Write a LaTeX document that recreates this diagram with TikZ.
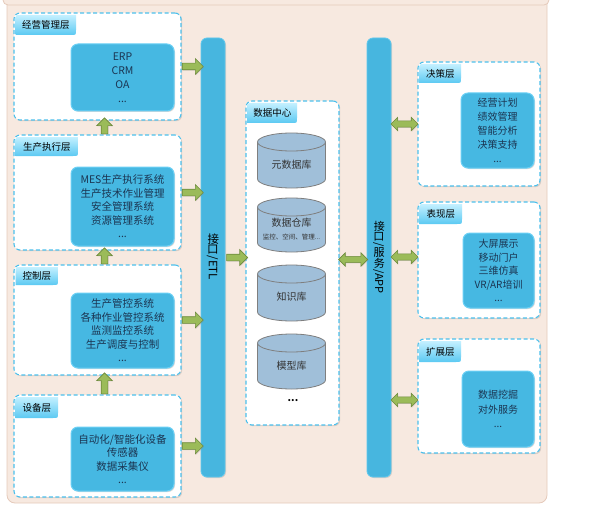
\documentclass[tikz,border=0pt]{standalone}
\usepackage{fontspec}
\setmainfont{Noto Sans CJK SC}
\usetikzlibrary{shapes.arrows,shadows,calc}
\definecolor{bgfill}{HTML}{F7E9E0}
\definecolor{bgline}{HTML}{E5CABB}
\definecolor{dashblue}{HTML}{4CC0EC}
\definecolor{ibfill}{HTML}{46B8E2}
\definecolor{ibline}{HTML}{6BD0F5}
\definecolor{navy}{HTML}{1B3552}
\definecolor{tabtop}{HTML}{C4F0FF}
\definecolor{tabbot}{HTML}{5BC9F2}
\definecolor{barfill}{HTML}{47B6DF}
\definecolor{barline}{HTML}{5EC8EE}
\definecolor{agreen}{HTML}{9BBB59}
\definecolor{adark}{HTML}{6E8B3D}
\definecolor{cylfill}{HTML}{A0BFD9}
\definecolor{cylline}{HTML}{7F7F7F}
\newcommand\mytab[6]{%
  \shade[top color=tabtop, bottom color=tabbot] ({#1},{#4}) -- ({#1},{#2+5}) .. controls ({#1},{#2}) .. ({#1+5},{#2}) -- ({#3},{#2}) -- ({#3},{#4-5}) .. controls ({#3},{#4}) .. ({#3-5},{#4}) -- cycle;
  \node[tabtext] (#5) at ({(#1+#3)/2},{(#2+#4)/2}) {#6};}
\newcommand\mycyl[5]{%
  \draw[draw=cylline, line width=0.8pt, fill=cylfill] (291.5,{#3-9}) ellipse [x radius=34, y radius=9];
  \fill[cylfill] (257.5,{#2+9}) rectangle (325.5,{#3-9});
  \draw[draw=cylline, line width=0.8pt] (257.5,{#2+9}) -- (257.5,{#3-9}) (325.5,{#2+9}) -- (325.5,{#3-9});
  \draw[draw=cylline, line width=0.8pt, fill=cylfill] (291.5,{#2+9}) ellipse [x radius=34, y radius=9];
  \node[cyltext] (#1) at (291.5,{#4}) {#5};}
\newcommand\up[1]{\rotatebox[origin=c]{90}{#1}\kern1pt}
\begin{document}
\begin{tikzpicture}[x=1pt,y=-1pt,
  outer/.style={draw=dashblue, line width=1.1pt, dash pattern=on 4pt off 2.5pt, fill=white, rounded corners=6pt, inner sep=0pt,
    drop shadow={shadow xshift=1.2pt, shadow yshift=-1.2pt, opacity=0.25}},
  inbox/.style={fill=ibfill, draw=ibline, line width=1pt, rounded corners=7pt, inner sep=0pt, text=navy, align=center,
    font=\fontsize{10.5}{13.5}\selectfont, drop shadow={shadow xshift=1pt, shadow yshift=-1pt, opacity=0.3}},
  tabtext/.style={font=\fontsize{9.5}{11}\selectfont, text=black, inner sep=0pt},
  bar/.style={fill=barfill, draw=barline, line width=0.8pt, rounded corners=6pt, minimum width=24, minimum height=439, inner sep=0pt,
    drop shadow={shadow xshift=1pt, shadow yshift=-1pt, opacity=0.25}},
  bartext/.style={font=\fontsize{11.5}{13}\selectfont, text=black, inner sep=0pt},
  barrow/.style={single arrow, fill=agreen, draw=adark, line width=0.6pt, text height=3pt, text depth=3pt, single arrow head extend=4.5pt,
    inner sep=0pt, minimum height=#1, drop shadow={shadow xshift=0.8pt, shadow yshift=-0.8pt, opacity=0.25}},
  dbarrow/.style={double arrow, fill=agreen, draw=adark, line width=0.6pt, text height=2.8pt, text depth=2.8pt, double arrow head extend=3.6pt,
    inner sep=0pt, minimum height=#1, drop shadow={shadow xshift=0.8pt, shadow yshift=-0.8pt, opacity=0.25}},
  cyltext/.style={font=\fontsize{10}{12}\selectfont, text=black!80, inner sep=0pt, align=center}]
\useasboundingbox (0,0) rectangle (591,508);
% background
\draw[draw=bgline, fill=bgfill, line width=0.8pt, rounded corners=8pt] (7,-5) rectangle (547,503);
\draw[draw=bgline, fill=bgfill, line width=0.8pt, rounded corners=5pt] (3,-20) rectangle (549,5);
% left outer boxes
\node[outer, minimum width=167, minimum height=107] (L1) at (97.5,66.5) {};
\node[outer, minimum width=167, minimum height=115] (L2) at (97.5,192.5) {};
\node[outer, minimum width=167, minimum height=110] (L3) at (97.5,320) {};
\node[outer, minimum width=167, minimum height=102] (L4) at (97.5,446) {};
% data center and right boxes
\node[outer, minimum width=93, minimum height=324] (dc) at (292.5,263) {};
\node[outer, minimum width=122, minimum height=124] (R1) at (479,124) {};
\node[outer, minimum width=122, minimum height=116] (R2) at (479,260) {};
\node[outer, minimum width=122, minimum height=114] (R3) at (479,396) {};
% tabs
\mytab{15.5}{15}{76}{35}{t1}{经营管理层}
\mytab{15.5}{137}{78}{156}{t2}{生产执行层}
\mytab{15.5}{267}{58}{285}{t3}{控制层}
\mytab{15.5}{397}{58}{418}{t4}{设备层}
\mytab{247.5}{103}{297}{123}{tdc}{数据中心}
\mytab{419.5}{64}{461}{83}{tr1}{决策层}
\mytab{419.5}{204}{462}{224}{tr2}{表现层}
\mytab{419.5}{341}{461}{362}{tr3}{扩展层}
% inner boxes
\node[inbox, minimum width=103, minimum height=67, font=\fontsize{10.5}{14}\selectfont] (I1) at (122.5,77.5) {ERP\\CRM\\OA\\...};
\node[inbox, minimum width=103, minimum height=79] (I2) at (122.5,206.5) {MES生产执行系统\\生产技术作业管理\\安全管理系统\\资源管理系统\\...};
\node[inbox, minimum width=103, minimum height=75] (I3) at (122.5,330.5) {生产管控系统\\各种作业管控系统\\监测监控系统\\生产调度与控制\\...};
\node[inbox, minimum width=103, minimum height=64] (I4) at (122.5,459) {自动化/智能化设备\\传感器\\数据采集仪\\...};
\node[inbox, minimum width=73, minimum height=75, font=\fontsize{10}{14}\selectfont] (J1) at (497.5,130.5) {经营计划\\绩效管理\\智能分析\\决策支持\\...};
\node[inbox, minimum width=71, minimum height=75, font=\fontsize{10}{13.5}\selectfont] (J2) at (498.5,270.5) {大屏展示\\移动门户\\三维仿真\\VR/AR培训\\...};
\node[inbox, minimum width=72, minimum height=76, font=\fontsize{10}{14.5}\selectfont] (J3) at (498,409) {数据挖掘\\对外服务\\...};
% bars
\node[bar] (etl) at (213,257.5) {};
\node[bar] (app) at (379,257.5) {};
\node[bartext, rotate=-90] (etlt) at (213,257) {\up{接}\up{口}/ETL};
\node[bartext, rotate=-90, font=\fontsize{11}{12}\selectfont] (appt) at (379,257.5) {\up{接}\up{口}/\kern1pt\up{服}\up{务}/APP};
% cylinders
\mycyl{c1}{133}{188}{165}{元数据库}
\mycyl{c2}{198}{252}{223}{数据仓库}
\node[cyltext, font=\fontsize{6.5}{8}\selectfont] (c2s) at (291.5,237) {监控、空间、管理...};
\mycyl{c3}{265}{321}{297}{知识库}
\mycyl{c4}{334}{389}{366}{模型库}
\node[cyltext, font=\bfseries\fontsize{10}{12}\selectfont, text=black] (cdots) at (293,401) {...};
% block arrows
\node[barrow=21] (a1) at ($(L1.east)!0.5!(L1.east -| etl.west)$) {};
\node[barrow=21] (a2) at ($(L2.east)!0.5!(L2.east -| etl.west)$) {};
\node[barrow=21] (a3) at ($(L3.east)!0.5!(L3.east -| etl.west)$) {};
\node[barrow=21] (a4) at ($(L4.east)!0.5!(L4.east -| etl.west)$) {};
\node[barrow=16, rotate=90] (u1) at ($(L2.north)!0.5!(L1.south)+(7,0)$) {};
\node[barrow=16, rotate=90] (u2) at ($(L3.north)!0.5!(L2.south)+(7,0)$) {};
\node[barrow=21, rotate=90] (u3) at ($(L4.north)!0.5!(L3.south)+(7,0)$) {};
\node[barrow=21] (e1) at ($(etl.east)!0.5!(etl.east -| dc.west)$) {};
\node[dbarrow=29] (d1) at ($(app.west)!0.5!(app.west -| dc.east)+(0,2)$) {};
\node[dbarrow=27] (r1) at ($(R1.west)!0.5!(R1.west -| app.east)$) {};
\node[dbarrow=27] (r2) at ($(R2.west)!0.5!(R2.west -| app.east)+(0,-3)$) {};
\node[dbarrow=27] (r3) at ($(R3.west)!0.5!(R3.west -| app.east)+(0,4)$) {};
\end{tikzpicture}
\end{document}
